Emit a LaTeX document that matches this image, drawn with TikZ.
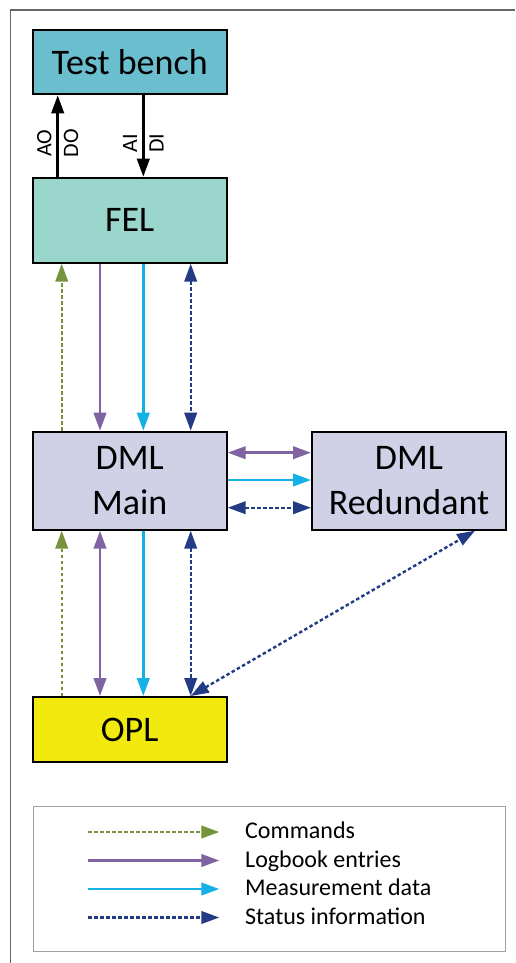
\documentclass[tikz,border=0pt]{standalone}
\usepackage{fontspec}
\setmainfont{Carlito}
\usetikzlibrary{arrows.meta}

\definecolor{tbfill}{HTML}{6BBECE}
\definecolor{felfill}{HTML}{9AD6CB}
\definecolor{dmlfill}{HTML}{D0D0E6}
\definecolor{oplfill}{HTML}{F2EA0E}
\definecolor{cmdgreen}{HTML}{76923C}
\definecolor{logpurple}{HTML}{8064A2}
\definecolor{meascyan}{HTML}{14B1E7}
\definecolor{statnavy}{HTML}{233A85}
\definecolor{framegray}{HTML}{666666}
\definecolor{legendgray}{HTML}{A0A0A0}

\tikzset{
  block/.style={draw=black, line width=2pt, anchor=north west, inner sep=0pt,
    font=\fontsize{36}{45}\selectfont, align=center},
  hd/.tip={Triangle[length=18pt, width=12.5pt]},
  cmd/.style={draw=cmdgreen, line width=2.4pt, dash pattern=on 3.5pt off 2.5pt,
    -{Triangle[length=18pt, width=12.5pt, fill=cmdgreen]}},
  logb/.style={draw=logpurple, line width=2.5pt},
  meas/.style={draw=meascyan, line width=2.5pt},
  stat/.style={draw=statnavy, line width=2.4pt, dash pattern=on 3.5pt off 2.5pt},
  sig/.style={draw=black, line width=2.5pt},
  siglabel/.style={rotate=90, font=\fontsize{22}{26}\selectfont, inner sep=6pt},
  legtext/.style={anchor=base west, font=\fontsize{24}{28}\selectfont, inner sep=0pt}
}

\begin{document}
\begin{tikzpicture}[x=1pt, y=-1pt]
\useasboundingbox (0,0) rectangle (515,963);

% outer frame (top and left edges)
\draw[framegray, line width=1.2pt] (515,10) -- (10.5,10) -- (10.5,963);

% blocks
\node[block, fill=tbfill, minimum width=194pt, minimum height=64pt] (tb) at (31.7,29.3) {Test bench};
\node[block, fill=felfill, minimum width=194pt, minimum height=85pt] (fel) at (31.7,176.7) {FEL};
\node[block, fill=dmlfill, minimum width=194pt, minimum height=98pt] (dml) at (31.7,430.7) {DML\\Main};
\node[block, fill=dmlfill, minimum width=194pt, minimum height=98pt] (red) at (311,430.7) {DML\\Redundant};
\node[block, fill=oplfill, minimum width=194pt, minimum height=65pt] (opl) at (31.7,696) {OPL};

% column positions of the vertical links
\coordinate (xout) at (57.7,0);
\coordinate (xin) at (143.3,0);
\coordinate (xg) at (61.7,0);
\coordinate (xp) at (100,0);
\coordinate (xc) at (143.3,0);
\coordinate (xn) at (190.7,0);
% row positions of the horizontal links
\coordinate (yp) at (0,452.7);
\coordinate (yc) at (0,480);
\coordinate (yn) at (0,507.7);
\coordinate (rdiag) at (475,0);

% test bench signals
\draw[sig, -hd] (fel.north -| xout) -- (tb.south -| xout);
\draw[sig, -hd] (tb.south -| xin) -- (fel.north -| xin);
\node[siglabel, anchor=south] (ao) at (57.7,143) {AO};
\node[siglabel, anchor=north] (do) at (57.7,143) {DO};
\node[siglabel, anchor=south] (ai) at (143.3,143) {AI};
\node[siglabel, anchor=north] (di) at (143.3,143) {DI};

% FEL <-> DML Main
\draw[cmd] (dml.north -| xg) -- (fel.south -| xg);
\draw[logb, -hd] (fel.south -| xp) -- (dml.north -| xp);
\draw[meas, -hd] (fel.south -| xc) -- (dml.north -| xc);
\draw[stat, {hd[fill=statnavy]}-{hd[fill=statnavy]}] (fel.south -| xn) -- (dml.north -| xn);

% DML Main <-> OPL
\draw[cmd] (opl.north -| xg) -- (dml.south -| xg);
\draw[logb, hd-hd] (dml.south -| xp) -- (opl.north -| xp);
\draw[meas, -hd] (dml.south -| xc) -- (opl.north -| xc);
\draw[stat, {hd[fill=statnavy]}-{hd[fill=statnavy]}] (dml.south -| xn) -- (opl.north -| xn);

% DML Main <-> DML Redundant
\draw[logb, hd-hd] (dml.east |- yp) -- (red.west |- yp);
\draw[meas, -hd] (dml.east |- yc) -- (red.west |- yc);
\draw[stat, {hd[fill=statnavy]}-{hd[fill=statnavy]}] (dml.east |- yn) -- (red.west |- yn);

% OPL <-> DML Redundant
\draw[stat, {hd[fill=statnavy]}-{hd[fill=statnavy]}] (opl.north -| xn) -- (red.south -| rdiag);

% legend
\node[draw=legendgray, line width=1.4pt, anchor=north west, inner sep=0pt,
  minimum width=472pt, minimum height=145pt] (legend) at (32.5,805.5) {};
\coordinate (la1) at (88.3,832);
\coordinate (lb1) at (219.3,832);
\coordinate (la2) at (88.3,860.5);
\coordinate (lb2) at (219.3,860.5);
\coordinate (la3) at (88.3,889);
\coordinate (lb3) at (219.3,889);
\coordinate (la4) at (88.3,917.5);
\coordinate (lb4) at (219.3,917.5);
\draw[cmd] (la1) -- (lb1);
\draw[logb, -hd] (la2) -- (lb2);
\draw[meas, -hd] (la3) -- (lb3);
\draw[stat, -{hd[fill=statnavy]}] (la4) -- (lb4);
\node[legtext] (t1) at (245,838.5) {Commands};
\node[legtext] (t2) at (245,867.2) {Logbook entries};
\node[legtext] (t3) at (245,895.9) {Measurement data};
\node[legtext] (t4) at (245,924.6) {Status information};
\end{tikzpicture}
\end{document}
